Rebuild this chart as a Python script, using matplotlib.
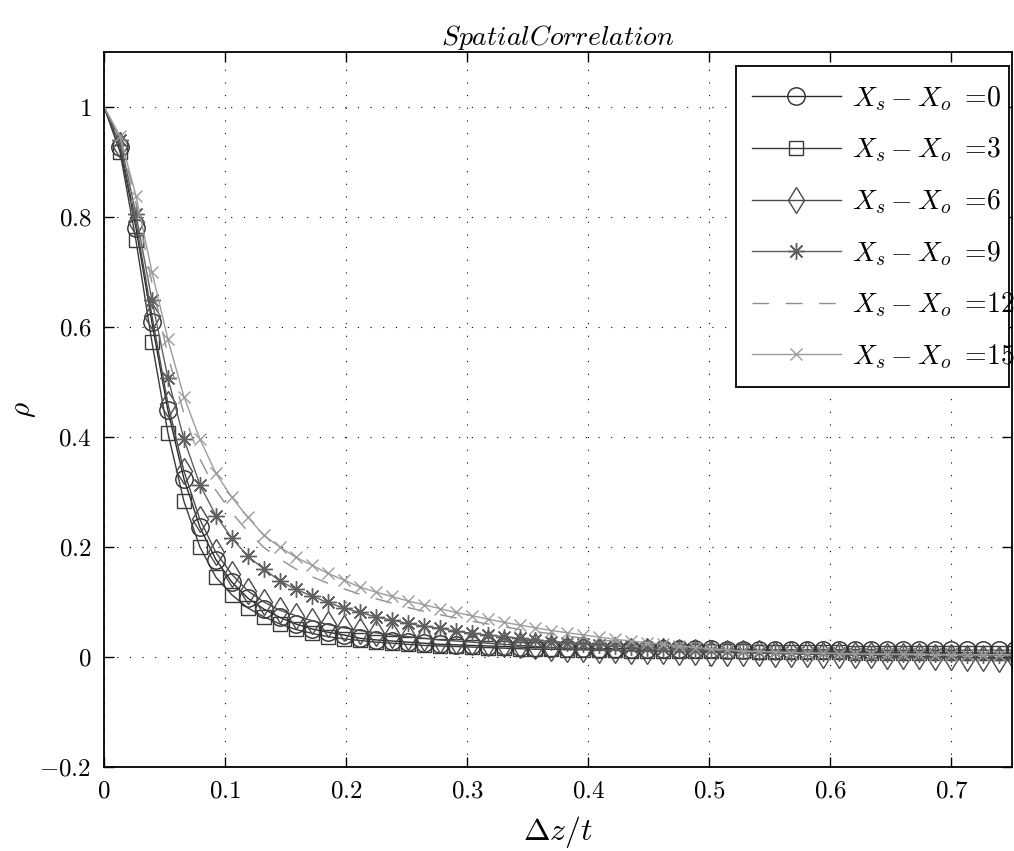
import numpy as np
import matplotlib
matplotlib.use("Agg")
import matplotlib.pyplot as plt
from matplotlib.patches import Rectangle
from matplotlib.ticker import FuncFormatter, MultipleLocator

plt.rcParams['mathtext.fontset'] = 'cm'
plt.rcParams['font.family'] = 'serif'
plt.rcParams['font.serif'] = ['DejaVu Serif']

# sample spacing along dz/t
dz_step = 0.0132
n_pts = 58
dz = np.round(np.arange(n_pts) * dz_step, 4)

offsets = [0, 3, 6, 9, 12, 15]

rho_0 = [1.000, 0.926, 0.780, 0.608, 0.448, 0.324, 0.236, 0.177, 0.136, 0.107,
         0.087, 0.072, 0.060, 0.051, 0.045, 0.040, 0.034, 0.031, 0.029, 0.027,
         0.025, 0.023, 0.022, 0.021, 0.020, 0.019, 0.018, 0.017, 0.017, 0.016,
         0.016, 0.015, 0.015, 0.015, 0.014, 0.014, 0.014, 0.014, 0.014, 0.013,
         0.013, 0.013, 0.013, 0.013, 0.013, 0.013, 0.013, 0.013, 0.013, 0.012,
         0.012, 0.012, 0.012, 0.012, 0.012, 0.012, 0.012, 0.012]
rho_3 = [1.000, 0.918, 0.757, 0.572, 0.407, 0.283, 0.200, 0.145, 0.113, 0.089,
         0.073, 0.060, 0.050, 0.043, 0.037, 0.033, 0.030, 0.027, 0.025, 0.023,
         0.021, 0.020, 0.019, 0.018, 0.017, 0.016, 0.015, 0.014, 0.014, 0.013,
         0.013, 0.012, 0.012, 0.011, 0.011, 0.011, 0.010, 0.010, 0.010, 0.010,
         0.010, 0.009, 0.009, 0.009, 0.009, 0.009, 0.009, 0.008, 0.008, 0.008,
         0.008, 0.008, 0.008, 0.008, 0.008, 0.007, 0.007, 0.007]
rho_6 = [1.000, 0.930, 0.790, 0.620, 0.460, 0.338, 0.250, 0.190, 0.150, 0.120,
         0.100, 0.085, 0.075, 0.066, 0.059, 0.053, 0.048, 0.044, 0.040, 0.037,
         0.034, 0.031, 0.029, 0.027, 0.025, 0.023, 0.021, 0.019, 0.017, 0.015,
         0.014, 0.013, 0.012, 0.011, 0.010, 0.010, 0.009, 0.009, 0.008, 0.008,
         0.007, 0.007, 0.006, 0.006, 0.005, 0.004, 0.004, 0.003, 0.003, 0.002,
         0.002, 0.001, 0.000, 0.000, -0.001, -0.002, -0.003, -0.004]
rho_9 = [1.000, 0.940, 0.805, 0.648, 0.507, 0.396, 0.313, 0.257, 0.216, 0.183,
         0.160, 0.138, 0.123, 0.111, 0.099, 0.089, 0.081, 0.073, 0.067, 0.061,
         0.056, 0.052, 0.047, 0.043, 0.040, 0.037, 0.034, 0.031, 0.028, 0.026,
         0.024, 0.022, 0.020, 0.018, 0.017, 0.015, 0.014, 0.013, 0.012, 0.011,
         0.010, 0.009, 0.009, 0.008, 0.008, 0.007, 0.007, 0.006, 0.006, 0.006,
         0.005, 0.005, 0.005, 0.005, 0.004, 0.004, 0.004, 0.004]
rho_12 = [1.000, 0.945, 0.825, 0.680, 0.548, 0.442, 0.360, 0.303, 0.262, 0.228,
          0.199, 0.178, 0.160, 0.146, 0.134, 0.124, 0.114, 0.106, 0.098, 0.090,
          0.083, 0.077, 0.071, 0.065, 0.060, 0.055, 0.050, 0.046, 0.042, 0.038,
          0.034, 0.031, 0.028, 0.025, 0.022, 0.020, 0.017, 0.015, 0.013, 0.011,
          0.010, 0.009, 0.008, 0.007, 0.007, 0.006, 0.006, 0.005, 0.005, 0.005,
          0.005, 0.004, 0.004, 0.004, 0.004, 0.004, 0.004, 0.004]
rho_15 = [1.000, 0.947, 0.838, 0.700, 0.577, 0.473, 0.396, 0.334, 0.290, 0.254,
          0.221, 0.200, 0.181, 0.167, 0.152, 0.140, 0.127, 0.118, 0.110, 0.102,
          0.095, 0.088, 0.081, 0.075, 0.069, 0.063, 0.058, 0.053, 0.048, 0.044,
          0.040, 0.036, 0.032, 0.029, 0.026, 0.023, 0.020, 0.017, 0.015, 0.013,
          0.011, 0.010, 0.009, 0.008, 0.007, 0.007, 0.006, 0.006, 0.005, 0.005,
          0.005, 0.005, 0.004, 0.004, 0.004, 0.004, 0.004, 0.004]

series = [rho_0, rho_3, rho_6, rho_9, rho_12, rho_15]

styles = [
    dict(color='#2a2a2a', marker='o', ms=12.5, ls='-'),
    dict(color='#3a3a3a', marker='s', ms=9.5, ls='-'),
    dict(color='#4a4a4a', marker='d', ms=13, ls='-'),
    dict(color='#606060', marker=(8, 2, 0), ms=12, ls='-'),
    dict(color='#8f8f8f', marker=None, ms=0, ls=(0, (12, 12))),
    dict(color='#9c9c9c', marker='x', ms=9, ls='-'),
]

W, H = 1014, 851
fig = plt.figure(figsize=(W / 100, H / 100), dpi=100)
ax = fig.add_axes([104 / W, 1 - 767 / H, (1012 - 104) / W, (767 - 51.7) / H])

for off, rho, st in zip(offsets, series, styles):
    ax.plot(dz, rho, color=st['color'], lw=1.0, ls=st['ls'],
            marker=st['marker'], ms=st['ms'], mfc='none', mec=st['color'], mew=1.0,
            markevery=slice(1, None),
            label=r'$X_s - X_o\ {=}\!%d$' % off)

ax.set_xlim(0, 0.75)
ax.set_ylim(-0.2, 1.1)
ax.xaxis.set_major_locator(MultipleLocator(0.1))
ax.set_yticks([-0.2, 0, 0.2, 0.4, 0.6, 0.8, 1.0])
fmt = FuncFormatter(lambda v, p: r'$%g$' % round(v, 2))
ax.xaxis.set_major_formatter(fmt)
ax.yaxis.set_major_formatter(fmt)
ax.tick_params(direction='in', length=7, width=1.0, top=True, right=True,
               labelsize=18, pad=9, colors='black')
ax.grid(True, color='black', lw=0.8, ls=(0, (1, 10.4)))
for sp in ax.spines.values():
    sp.set_linewidth(1.3)

ax.set_xlabel(r'$\Delta z/t$', fontsize=23, labelpad=8)
ax.set_ylabel(r'$\rho$', fontsize=21, labelpad=1)
ax.set_title(r'$SpatialCorrelation$', fontsize=20, pad=5)

# legend box drawn as a plain rectangle; entries sit on top of it without their own frame
frame = Rectangle((736 / W, 1 - 387 / H), (1009 - 736) / W, (387 - 66) / H,
                  transform=fig.transFigure, facecolor='white', edgecolor='black',
                  lw=1.3, zorder=4.9, clip_on=False)
ax.add_patch(frame)

leg = ax.legend(loc='upper left', bbox_to_anchor=(752 / W, 1 - 84 / H),
                bbox_transform=fig.transFigure, borderaxespad=0, fontsize=20,
                handlelength=3.2, handletextpad=0.4, labelspacing=0.825,
                borderpad=0, frameon=False)
leg.set_zorder(5)

fig.savefig('out.png', dpi=100)
